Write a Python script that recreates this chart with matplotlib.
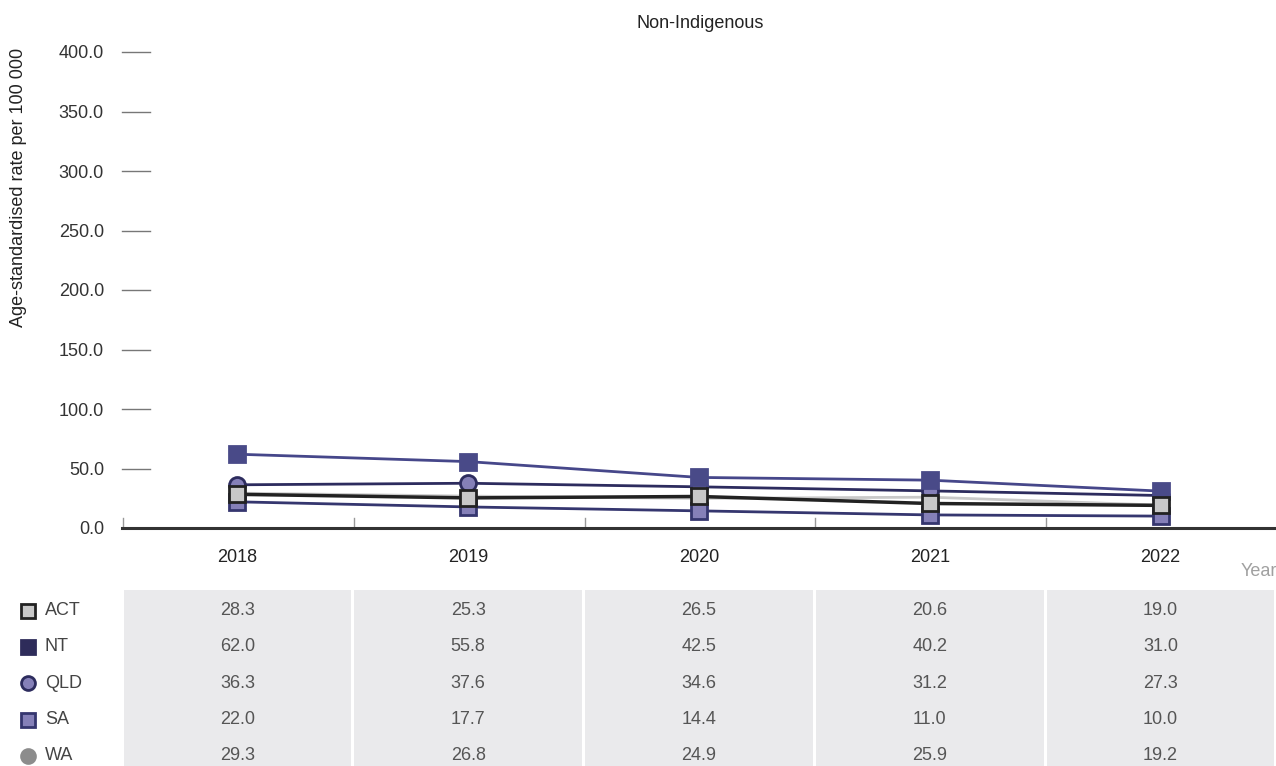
import matplotlib
matplotlib.use("Agg")
import matplotlib.pyplot as plt
import matplotlib.transforms as mtransforms

plt.rcParams['font.family'] = ['Liberation Sans', 'DejaVu Sans']

years = ["2018", "2019", "2020", "2021", "2022"]
series_names = ["ACT", "NT", "QLD", "SA", "WA"]
act = [28.3, 25.3, 26.5, 20.6, 19.0]
nt = [62.0, 55.8, 42.5, 40.2, 31.0]
qld = [36.3, 37.6, 34.6, 31.2, 27.3]
sa = [22.0, 17.7, 14.4, 11.0, 10.0]
wa = [29.3, 26.8, 24.9, 25.9, 19.2]
yticks = [0, 50, 100, 150, 200, 250, 300, 350, 400]

title = "Non-Indigenous"
ylabel = "Age-standardised rate per 100 000"
xlabel = "Year"

FS = 13
W, H = 1276, 766
fig = plt.figure(figsize=(W / 100, H / 100), dpi=100)

def fx(px):
    return px / W

def fy(py):
    return 1 - py / H

L, R = 122, 1276
top_px, bot_px = 52, 528
ax = fig.add_axes([fx(L), fy(bot_px), fx(R - L), (bot_px - top_px) / H])
ax.set_xlim(-0.5, 4.5)
ax.set_ylim(0, 400)
for s in ["top", "right", "left"]:
    ax.spines[s].set_visible(False)
ax.spines["bottom"].set_color("#333333")
ax.spines["bottom"].set_linewidth(2.2)
ax.patch.set_alpha(0)

xs = list(range(len(years)))

styles = {
    "WA": dict(color="#c9c9c9", lw=2, marker=None),
    "SA": dict(color="#35366f", lw=2, marker="s", mfc="#8580b8", mec="#35366f"),
    "QLD": dict(color="#2d2c5e", lw=2, marker="o", mfc="#8580b8", mec="#2d2c5e"),
    "NT": dict(color="#46478a", lw=2, marker="s", mfc="#494a88", mec="#494a88"),
    "ACT": dict(color="#222222", lw=2.5, marker="s", mfc="#c8c8c8", mec="#222222"),
}
data = {"ACT": act, "NT": nt, "QLD": qld, "SA": sa, "WA": wa}
for z, name in enumerate(["WA", "SA", "QLD", "NT", "ACT"]):
    st = styles[name]
    if st["marker"] is None:
        ax.plot(xs, data[name], color=st["color"], lw=st["lw"], zorder=2 + z)
    else:
        ax.plot(xs, data[name], color=st["color"], lw=st["lw"], marker=st["marker"],
                markersize=11.5, markerfacecolor=st["mfc"], markeredgecolor=st["mec"],
                markeredgewidth=2, zorder=2 + z)

ax.set_yticks(yticks)
ax.set_yticklabels([f"{v:.1f}" for v in yticks], fontsize=FS, color="#333333")
ax.tick_params(axis="y", length=0, pad=13)
trans_y = mtransforms.blended_transform_factory(ax.transAxes, ax.transData)
for v in yticks:
    ax.plot([0, 28 / (R - L)], [v, v], color="#777777", lw=1, transform=trans_y, clip_on=False)

ax.set_xticks(xs)
ax.set_xticklabels(years, fontsize=FS, color="#222222")
ax.tick_params(axis="x", length=0, pad=15)
trans_x = mtransforms.blended_transform_factory(ax.transData, ax.transAxes)
for b in [-0.5, 0.5, 1.5, 2.5, 3.5]:
    ax.plot([b + 0.004, b + 0.004], [0, 10 / (bot_px - top_px)], color="#999999", lw=1,
            transform=trans_x, clip_on=False)

fig.text(fx(700), fy(23), title, ha="center", va="center", fontsize=FS, color="#222222")
fig.text(fx(19), fy(187), ylabel, rotation=90, ha="center", va="center", fontsize=FS, color="#222222")
fig.text(fx(1277), fy(572), xlabel, ha="right", va="center", fontsize=FS, color="#a0a0a0")

t_top, t_bot = 590, 766
tax = fig.add_axes([fx(L), fy(t_bot), fx(R - L), (t_bot - t_top) / H])
tax.set_xlim(-0.5, 4.5)
row_h = 36.3
nrows = (t_bot - t_top) / row_h
tax.set_ylim(nrows, 0)
tax.axis("off")
gap = 1.6 / ((R - L) / 5)
for i in xs:
    tax.axvspan(i - 0.5 + gap, i + 0.5 - gap, color="#eaeaec", lw=0, zorder=0)

leg = {
    "ACT": dict(marker="s", mfc="#c8c8c8", mec="#222222"),
    "NT": dict(marker="s", mfc="#2e2c5a", mec="#2e2c5a"),
    "QLD": dict(marker="o", mfc="#8580b8", mec="#2d2c5e"),
    "SA": dict(marker="s", mfc="#8580b8", mec="#35366f"),
    "WA": dict(marker="o", mfc="#8c8c8c", mec="#8c8c8c"),
}
col_w = (R - L) / 5
mx = -0.5 + (28 - L) / col_w
tx = -0.5 + (45 - L) / col_w
for r, name in enumerate(series_names):
    yc = r + 0.57
    lg = leg[name]
    tax.plot([mx], [yc], marker=lg["marker"], markersize=10, markerfacecolor=lg["mfc"],
             markeredgecolor=lg["mec"], markeredgewidth=2, clip_on=False, ls="none")
    tax.text(tx, yc, name, ha="left", va="center", fontsize=FS, color="#444444", clip_on=False)
    for i, v in enumerate(data[name]):
        tax.text(i, yc, f"{v:.1f}", ha="center", va="center", fontsize=FS, color="#555555")

fig.savefig("out.png", dpi=100)
